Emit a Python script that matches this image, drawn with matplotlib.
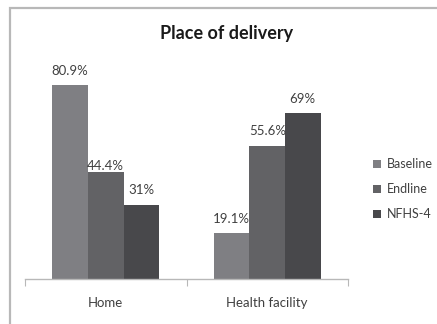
import matplotlib
matplotlib.use("Agg")
import matplotlib.pyplot as plt
from matplotlib.patches import Rectangle, Patch
import numpy as np

plt.rcParams['font.family'] = ['Lato', 'DejaVu Sans']

categories = ["Home", "Health facility"]
series = ["Baseline", "Endline", "NFHS-4"]
baseline = [80.9, 19.1]
endline = [44.4, 55.6]
nfhs4 = [31, 69]
labels = [["80.9%", "19.1%"], ["44.4%", "55.6%"], ["31%", "69%"]]

colors = ["#7f7f83", "#626265", "#48484b"]
textcol = "#404040"

W, H = 437, 324
fig = plt.figure(figsize=(W / 100, H / 100), dpi=100)
fig.patch.set_facecolor("white")

# outer chart border (only left and top edges show)
fig.add_artist(Rectangle((10 / W, -0.2), 1.2, 1.2 - 8 / H,
                         transform=fig.transFigure, fill=False,
                         edgecolor="#b8b8b8", lw=1.6))

ax = fig.add_axes([25 / W, 45 / H, 323 / W, 216 / H])
x = np.arange(len(categories))
w = 0.22
vals = [baseline, endline, nfhs4]
for i, (v, c) in enumerate(zip(vals, colors)):
    bars = ax.bar(x + (i - 1) * w, v, w, color=c, edgecolor="none")
    for j, b in enumerate(bars):
        off = 0 if labels[i][j] == "44.4%" else 6
        ax.annotate(labels[i][j], (b.get_x() + b.get_width() / 2, b.get_height()),
                    xytext=(0, off), textcoords="offset points",
                    ha="center", va="bottom", fontsize=9.5, color=textcol)

ax.set_xlim(-0.5, 1.5)
ax.set_ylim(0, 90)
ax.set_yticks([])
for s in ["left", "right", "top"]:
    ax.spines[s].set_visible(False)
ax.spines["bottom"].set_color("#b8b8b8")
ax.spines["bottom"].set_linewidth(1.0)
ax.set_xticks([-0.5, 0.5, 1.5], minor=False)
ax.set_xticklabels([])
ax.tick_params(axis="x", length=5, color="#b8b8b8", direction="out")
for xi, cat in zip(x, categories):
    ax.text(xi, -10, cat, ha="center", va="center", fontsize=9.5, color=textcol)

fig.text(227 / W, 1 - 33 / H, "Place of delivery", ha="center", va="center",
         fontsize=13, fontweight="bold", color="#1a1a1a")

handles = [Patch(facecolor=c, edgecolor="none") for c in colors]
fig.legend(handles, series, loc="upper left",
           bbox_to_anchor=(367 / W, 1 - 152 / H), frameon=False,
           fontsize=9, handlelength=0.65, handleheight=0.65,
           handletextpad=0.4, labelspacing=1.05, labelcolor=textcol,
           borderpad=0)

fig.savefig("out.png", dpi=100)
